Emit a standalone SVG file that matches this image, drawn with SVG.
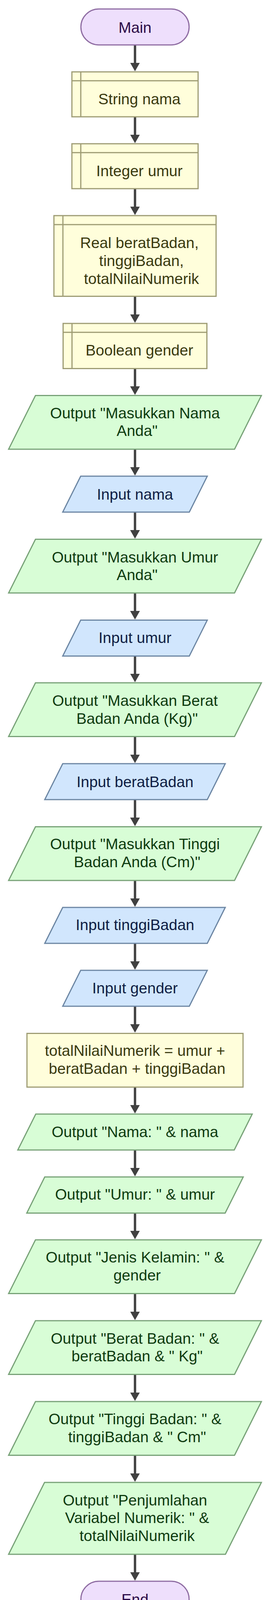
<svg xmlns="http://www.w3.org/2000/svg" width="691" height="4164" viewBox="0 0 691 4164">
<style>
text{font-family:"Liberation Sans",Arial,sans-serif;font-size:39px;text-anchor:middle}
.term{fill:#eedffc;stroke:#8f6da3;stroke-width:3}
.term-t{fill:#2c0c48}
.decl{fill:#fffedb;stroke:#9e9c74;stroke-width:3}
.decl-l{fill:none;stroke:#9e9c74;stroke-width:3}
.decl-t{fill:#3a3a10}
.out{fill:#d8fdd6;stroke:#78a278;stroke-width:3}
.out-t{fill:#0e3b10}
.in{fill:#d1e6fd;stroke:#6c86a3;stroke-width:3}
.in-t{fill:#0f1e44}
.edge{fill:none;stroke:#404040;stroke-width:6;marker-end:url(#ah)}
</style>
<defs>
<marker id="ah" markerUnits="userSpaceOnUse" markerWidth="22" markerHeight="25" viewBox="0 0 22 25" refX="12" refY="12.5" orient="auto"><path d="M0,0 L22,12.5 L0,25 z" fill="#404040"/></marker>
</defs>
<rect width="691" height="4164" fill="#ffffff"/>
<g id="connectors">
<path class="edge" d="M345.5,115 V172.5"/>
<path class="edge" d="M345.5,299 V356.5"/>
<path class="edge" d="M345.5,483 V540.5"/>
<path class="edge" d="M345.5,758.5 V816.5"/>
<path class="edge" d="M345.5,943.5 V1001"/>
<path class="edge" d="M345.5,1150 V1207.5"/>
<path class="edge" d="M345.5,1311 V1369"/>
<path class="edge" d="M345.5,1518 V1576"/>
<path class="edge" d="M345.5,1679.5 V1736.5"/>
<path class="edge" d="M345.5,1885.5 V1943.5"/>
<path class="edge" d="M345.5,2047 V2105"/>
<path class="edge" d="M345.5,2254 V2311.5"/>
<path class="edge" d="M345.5,2415 V2472.5"/>
<path class="edge" d="M345.5,2576 V2633.5"/>
<path class="edge" d="M345.5,2783 V2840.5"/>
<path class="edge" d="M345.5,2944 V3001.5"/>
<path class="edge" d="M345.5,3105.5 V3162.5"/>
<path class="edge" d="M345.5,3311.5 V3369.5"/>
<path class="edge" d="M345.5,3518.5 V3576.5"/>
<path class="edge" d="M345.5,3725.5 V3783.5"/>
<path class="edge" d="M345.5,3979 V4036.5"/>
</g>
<g id="main">
<rect class="term" x="207" y="23" width="277" height="92" rx="46" ry="46"/>
<text class="term-t" x="345.5" y="83.5">Main</text>
</g>
<g id="declare-nama">
<rect class="decl" x="184" y="184" width="323" height="115"/>
<path class="decl-l" d="M206.75,184 V299 M184,206.75 H507"/>
<text class="decl-t" x="356.75" y="267">String nama</text>
</g>
<g id="declare-umur">
<rect class="decl" x="184" y="368" width="323" height="115"/>
<path class="decl-l" d="M206.75,368 V483 M184,390.75 H507"/>
<text class="decl-t" x="356.75" y="451">Integer umur</text>
</g>
<g id="declare-real">
<rect class="decl" x="138" y="552" width="415" height="206.5"/>
<path class="decl-l" d="M161,552 V758.5 M138,575 H553"/>
<text class="decl-t" x="356.75" y="635">Real beratBadan,</text>
<text class="decl-t" x="362" y="681">tinggiBadan,</text>
<text class="decl-t" x="362" y="727">totalNilaiNumerik</text>
</g>
<g id="declare-gender">
<rect class="decl" x="161.5" y="828" width="368" height="115.5"/>
<path class="decl-l" d="M184.25,828 V943.5 M161.5,850.75 H529.5"/>
<text class="decl-t" x="356.75" y="910">Boolean gender</text>
</g>
<g id="out-prompt-nama">
<polygon class="out" points="90.75,1012.5 669,1012.5 600.25,1150 22,1150"/>
<text class="out-t" x="345.5" y="1070.5">Output "Masukkan Nama</text>
<text class="out-t" x="350.9" y="1116.3">Anda"</text>
</g>
<g id="in-nama">
<polygon class="in" points="206.5,1219 530.5,1219 484.5,1311 160.5,1311"/>
<text class="in-t" x="345.5" y="1279">Input nama</text>
</g>
<g id="out-prompt-umur">
<polygon class="out" points="90.75,1380.5 669,1380.5 600.25,1518 22,1518"/>
<text class="out-t" x="345.5" y="1439.5">Output "Masukkan Umur</text>
<text class="out-t" x="350.9" y="1485">Anda"</text>
</g>
<g id="in-umur">
<polygon class="in" points="206.5,1587.5 530.5,1587.5 484.5,1679.5 160.5,1679.5"/>
<text class="in-t" x="345.5" y="1645.5">Input umur</text>
</g>
<g id="out-prompt-berat">
<polygon class="out" points="90.75,1748 669,1748 600.25,1885.5 22,1885.5"/>
<text class="out-t" x="345.5" y="1807">Output "Masukkan Berat</text>
<text class="out-t" x="350.9" y="1852.5">Badan Anda (Kg)"</text>
</g>
<g id="in-berat">
<polygon class="in" points="160.5,1955 576.5,1955 530.5,2047 114.5,2047"/>
<text class="in-t" x="345.5" y="2014.7">Input beratBadan</text>
</g>
<g id="out-prompt-tinggi">
<polygon class="out" points="90.75,2116.5 669,2116.5 600.25,2254 22,2254"/>
<text class="out-t" x="345.5" y="2174">Output "Masukkan Tinggi</text>
<text class="out-t" x="350.9" y="2219.6">Badan Anda (Cm)"</text>
</g>
<g id="in-tinggi">
<polygon class="in" points="160.5,2323 576.5,2323 530.5,2415 114.5,2415"/>
<text class="in-t" x="345.5" y="2381">Input tinggiBadan</text>
</g>
<g id="in-gender">
<polygon class="in" points="206.5,2484 530.5,2484 484.5,2576 160.5,2576"/>
<text class="in-t" x="345.5" y="2543">Input gender</text>
</g>
<g id="process-total">
<rect class="decl" x="69" y="2645.5" width="553" height="137.5"/>
<text class="decl-t" x="345.5" y="2702.7">totalNilaiNumerik = umur +</text>
<text class="decl-t" x="350.9" y="2748.5">beratBadan + tinggiBadan</text>
</g>
<g id="out-nama">
<polygon class="out" points="91.5,2852 645.5,2852 599.5,2944 45.5,2944"/>
<text class="out-t" x="345.5" y="2910.7">Output "Nama: " &amp; nama</text>
</g>
<g id="out-umur">
<polygon class="out" points="114.5,3013 622.5,3013 576.25,3105.5 68.5,3105.5"/>
<text class="out-t" x="345.5" y="3071.4">Output "Umur: " &amp; umur</text>
</g>
<g id="out-gender">
<polygon class="out" points="90.75,3174 669,3174 600.25,3311.5 22,3311.5"/>
<text class="out-t" x="345.5" y="3232">Output "Jenis Kelamin: " &amp;</text>
<text class="out-t" x="350.9" y="3277.5">gender</text>
</g>
<g id="out-berat">
<polygon class="out" points="90.75,3381 669,3381 600.25,3518.5 22,3518.5"/>
<text class="out-t" x="345.5" y="3439.5">Output "Berat Badan: " &amp;</text>
<text class="out-t" x="350.9" y="3485">beratBadan &amp; " Kg"</text>
</g>
<g id="out-tinggi">
<polygon class="out" points="90.75,3588 669,3588 600.25,3725.5 22,3725.5"/>
<text class="out-t" x="345.5" y="3646">Output "Tinggi Badan: " &amp;</text>
<text class="out-t" x="350.9" y="3691.7">tinggiBadan &amp; " Cm"</text>
</g>
<g id="out-total">
<polygon class="out" points="114,3795 669,3795 577,3979 22,3979"/>
<text class="out-t" x="345.5" y="3853.5">Output "Penjumlahan</text>
<text class="out-t" x="350.9" y="3899">Variabel Numerik: " &amp;</text>
<text class="out-t" x="350.9" y="3944.8">totalNilaiNumerik</text>
</g>
<g id="end">
<rect class="term" x="207" y="4048" width="277" height="92" rx="46" ry="46"/>
<text class="term-t" x="345.5" y="4108">End</text>
</g>
</svg>
